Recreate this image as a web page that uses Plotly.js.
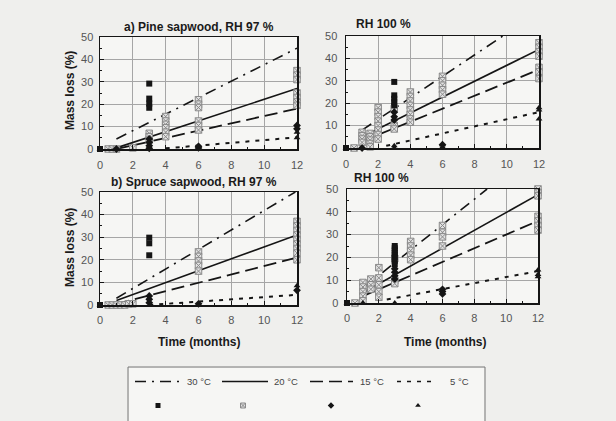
<!DOCTYPE html>
<html>
<head>
<meta charset="utf-8">
<script src="https://cdn.plot.ly/plotly-3.0.1.min.js"></script>
<style>
  html, body { margin: 0; padding: 0; background: #efefed; }
  #chart { width: 616px; height: 421px; }
</style>
</head>
<body>
<div id="chart"></div>
<script>
// ---- axis ticks ----
const monthTicks = [0, 2, 4, 6, 8, 10, 12];
const lossTicks = [0, 10, 20, 30, 40, 50];
const tempLabels = ['30 °C', '20 °C', '15 °C', '5 °C'];

// ---- a) Pine sapwood, RH 97 % : fitted trends [month, mass loss %] ----
const pine97Fit30 = [[1, 4.5], [12, 45]];
const pine97Fit20 = [[1, 0.5], [12, 27]];
const pine97Fit15 = [[1, 0], [12, 18]];
const pine97Fit5  = [[4, 0.3], [12, 5.2]];
// measured mass loss [month, %]
const pine97Pts30 = [[0, 0], [3, 29.2], [3, 22.5], [3, 20.3], [3, 18.4]];
const pine97Pts20 = [[0.5, 0], [0.75, 0], [1, 0], [2, 0.5], [3, 7], [3, 5.5], [3, 4],
  [4, 14.5], [4, 12.5], [4, 11], [4, 9.5], [4, 7.5], [4, 5.5],
  [6, 22], [6, 20], [6, 18.5], [6, 12.5], [6, 10.5], [6, 8.5],
  [12, 35], [12, 33], [12, 31], [12, 25], [12, 23], [12, 21], [12, 19.5]];
const pine97Pts15 = [[1, 0], [3, 4.5], [3, 3], [3, 1.5], [3, 0.3], [6, 1.2], [6, 0.5], [12, 10.5], [12, 9]];
const pine97Pts5  = [[0, 0], [6, 1.5], [12, 7.5], [12, 5]];

// ---- Pine sapwood, RH 100 % ----
const pine100Fit30 = [[1, 8], [9.75, 50]];
const pine100Fit20 = [[1, 5], [12, 44]];
const pine100Fit15 = [[1, 3], [12, 35]];
const pine100Fit5  = [[2.5, 1], [12, 16]];
const pine100Pts30 = [[0, 0], [3, 29.5], [3, 23.5], [3, 22], [3, 20.5], [3, 19]];
const pine100Pts20 = [[0.5, 0], [1, 7], [1, 5.5], [1, 4], [1, 2.5],
  [1.5, 6.5], [1.5, 5], [1.5, 3.5], [1.5, 2], [1.5, 0.5],
  [2, 18], [2, 16], [2, 14], [2, 12], [2, 10], [2, 8], [2, 6], [2, 4],
  [3, 17.5], [3, 10], [3, 8.5],
  [4, 25], [4, 23], [4, 21], [4, 19], [4, 17], [4, 15], [4, 13], [4, 11.5],
  [6, 32], [6, 30], [6, 28], [6, 26], [6, 24],
  [12, 47], [12, 45], [12, 43], [12, 41], [12, 36], [12, 34], [12, 31]];
const pine100Pts15 = [[1, 0], [3, 16], [3, 14], [3, 12.5], [6, 1.5]];
const pine100Pts5  = [[0, 0], [3, 1], [3, 0], [6, 1.5], [6, 0.5], [12, 18], [12, 17], [12, 13]];

// ---- b) Spruce sapwood, RH 97 % ----
const spruce97Fit30 = [[1, 3], [11.9, 50]];
const spruce97Fit20 = [[1, 2], [12, 31]];
const spruce97Fit15 = [[1, 0.5], [12, 21]];
const spruce97Fit5  = [[3, 0], [12, 4.5]];
const spruce97Pts30 = [[0, 0], [3, 29.8], [3, 27.3], [3, 22]];
const spruce97Pts20 = [[0.5, 0], [0.75, 0], [1, 0], [1.25, 0], [1.5, 0], [1.75, 0.5], [2, 0.5],
  [6, 23.5], [6, 21.5], [6, 19.5], [6, 17.5], [6, 15],
  [12, 37], [12, 35], [12, 33], [12, 31], [12, 29], [12, 27], [12, 25], [12, 23], [12, 20]];
const spruce97Pts15 = [[3, 4], [3, 2.5], [3, 1], [6, 0.5], [12, 6.5]];
const spruce97Pts5  = [[0, 0], [6, 0], [12, 8.5]];

// ---- Spruce sapwood, RH 100 % ----
const spruce100Fit30 = [[1, 6.5], [8.8, 50]];
const spruce100Fit20 = [[1, 4.5], [12, 47.5]];
const spruce100Fit15 = [[1, 3], [12, 36]];
const spruce100Fit5  = [[2.5, 1.5], [12, 14]];
const spruce100Pts30 = [[0, 0], [3, 25], [3, 24], [3, 23], [3, 22], [3, 21], [3, 20], [3, 18.5], [3, 17]];
const spruce100Pts20 = [[0.5, 0], [1, 9], [1, 7], [1, 5], [1, 3], [1, 1],
  [1.5, 10.5], [1.5, 8], [1.5, 6],
  [2, 15.5], [2, 11], [2, 8], [2, 5], [2, 2.5],
  [3, 19.5], [3, 10], [3, 8.5],
  [4, 27], [4, 25], [4, 23], [4, 21], [4, 19],
  [6, 34], [6, 31], [6, 29], [6, 25],
  [12, 50], [12, 48.5], [12, 47], [12, 38], [12, 36], [12, 34], [12, 32]];
const spruce100Pts15 = [[3, 15], [3, 13.5], [3, 12], [3, 10.5], [6, 6], [6, 5], [6, 4]];
const spruce100Pts5  = [[0, 0], [1, 0], [3, 0], [12, 14.5], [12, 12.5], [12, 11.5]];

// ---- styles ----
const FONT = 'Liberation Sans, Arial, Helvetica, sans-serif';
const INK = '#151515';
const lineStyles = [
  { color: INK, width: 1.6, dash: '11px,6px,2px,6px' },         // 30 °C
  { color: INK, width: 1.6, dash: 'solid' },                    // 20 °C
  { color: INK, width: 1.8, dash: '13px,6px' },                 // 15 °C
  { color: INK, width: 2.0, dash: '4px,6px' }                   // 5 °C
];
const markerStyles = [
  { symbol: 'square', size: 6, color: INK },
  { symbol: 'square-x', size: 6.5, color: '#e2e2e2', line: { color: '#8a8a8a', width: 1 } },
  { symbol: 'diamond', size: 6, color: INK },
  { symbol: 'triangle-up', size: 6, color: INK }
];

const panels = [
  { xa: 'x',  ya: 'y',  fits: [pine97Fit30, pine97Fit20, pine97Fit15, pine97Fit5],
    pts: [pine97Pts30, pine97Pts20, pine97Pts15, pine97Pts5] },
  { xa: 'x2', ya: 'y2', fits: [pine100Fit30, pine100Fit20, pine100Fit15, pine100Fit5],
    pts: [pine100Pts30, pine100Pts20, pine100Pts15, pine100Pts5] },
  { xa: 'x3', ya: 'y3', fits: [spruce97Fit30, spruce97Fit20, spruce97Fit15, spruce97Fit5],
    pts: [spruce97Pts30, spruce97Pts20, spruce97Pts15, spruce97Pts5] },
  { xa: 'x4', ya: 'y4', fits: [spruce100Fit30, spruce100Fit20, spruce100Fit15, spruce100Fit5],
    pts: [spruce100Pts30, spruce100Pts20, spruce100Pts15, spruce100Pts5] }
];

const traces = [];
panels.forEach(p => {
  p.fits.forEach((f, i) => traces.push({
    type: 'scatter', mode: 'lines', xaxis: p.xa, yaxis: p.ya,
    x: f.map(d => d[0]), y: f.map(d => d[1]),
    line: lineStyles[i], hoverinfo: 'skip', showlegend: false
  }));
  // grey markers underneath, black on top
  [1, 0, 2, 3].forEach(i => traces.push({
    type: 'scatter', mode: 'markers', xaxis: p.xa, yaxis: p.ya,
    x: p.pts[i].map(d => d[0]), y: p.pts[i].map(d => d[1]),
    marker: markerStyles[i], cliponaxis: false, hoverinfo: 'skip', showlegend: false
  }));
});

// ---- key box (drawn on its own pixel-like axis) ----
const keyLineX = [[135, 183], [222, 268], [310, 353], [397, 435]];
const keyTextX = [185, 272, 358, 448];
const keyMarkX = [158, 243, 331, 418];
const keyRowLine = 381.5, keyRowMark = 405.5;
keyLineX.forEach((seg, i) => {
  traces.push({
    type: 'scatter', mode: 'lines', xaxis: 'x5', yaxis: 'y5',
    x: seg, y: [keyRowLine, keyRowLine], line: Object.assign({}, lineStyles[i], { width: 1.4 }),
    hoverinfo: 'skip', showlegend: false
  });
  traces.push({
    type: 'scatter', mode: 'markers', xaxis: 'x5', yaxis: 'y5',
    x: [keyMarkX[i]], y: [keyRowMark],
    marker: Object.assign({}, markerStyles[i], { size: 5 }), hoverinfo: 'skip', showlegend: false
  });
});

const W = 616, H = 421;
const px = v => v / W;
const py = v => 1 - v / H;

function xAxis(l, r, anchor, standoff) {
  return {
    domain: [px(l), px(r)], anchor, range: [0, 12], tickmode: 'array', tickvals: monthTicks,
    ticks: 'inside', ticklen: 4, tickcolor: INK, tickwidth: 1,
    minor: { ticks: 'inside', ticklen: 2, tickcolor: INK, tickmode: 'linear', tick0: 0, dtick: 1, showgrid: false },
    showline: true, mirror: true, linecolor: INK, linewidth: 1.5,
    showgrid: true, gridcolor: '#a6a6a6', gridwidth: 1, zeroline: false,
    tickfont: { family: FONT, size: 11, color: '#555' }, ticklabelstandoff: standoff,
    fixedrange: true
  };
}
function yAxis(t, b, anchor, standoff) {
  return {
    domain: [py(b), py(t)], anchor, range: [0, 50], tickmode: 'array', tickvals: lossTicks,
    ticks: 'inside', ticklen: 4, tickcolor: INK, tickwidth: 1,
    minor: { ticks: 'inside', ticklen: 2, tickcolor: INK, tickmode: 'linear', tick0: 0, dtick: 5, showgrid: false },
    showline: true, mirror: true, linecolor: INK, linewidth: 1.5,
    showgrid: true, gridcolor: '#a6a6a6', gridwidth: 1, zeroline: false,
    tickfont: { family: FONT, size: 11, color: '#555' }, ticklabelstandoff: standoff,
    fixedrange: true
  };
}

const titleFont = { family: FONT, size: 12, color: '#1a1a1a', weight: 'bold' };
const ann = (text, x, y, xanchor, extra) => Object.assign({
  text, x: px(x), y: py(y), xref: 'paper', yref: 'paper',
  xanchor, yanchor: 'middle', showarrow: false, font: titleFont
}, extra || {});

const annotations = [
  ann('a) Pine sapwood, RH 97 %', 199, 27, 'center'),
  ann('RH 100 %', 354, 24, 'left'),
  ann('b) Spruce sapwood, RH 97 %', 194, 182, 'center'),
  ann('RH 100 %', 352, 178, 'left'),
  ann('Mass loss (%)', 70, 91, 'center', { textangle: -90 }),
  ann('Mass loss (%)', 70, 248, 'center', { textangle: -90 }),
  ann('Time (months)', 199, 342, 'center'),
  ann('Time (months)', 445, 342, 'center')
];
tempLabels.forEach((t, i) => annotations.push({
  text: t, x: keyTextX[i], y: keyRowLine, xref: 'x5', yref: 'y5',
  xanchor: 'left', yanchor: 'middle', showarrow: false,
  font: { family: FONT, size: 9.5, color: '#444' }
}));

const layout = {
  width: W, height: H, margin: { l: 0, r: 0, t: 0, b: 0 },
  paper_bgcolor: '#efefed', plot_bgcolor: '#f6f6f4',
  showlegend: false,
  xaxis:  xAxis(100, 297, 'y', 5),
  yaxis:  yAxis(37, 149, 'x', 3),
  xaxis2: xAxis(346, 539, 'y2', 5),
  yaxis2: yAxis(36, 148, 'x2', 5),
  xaxis3: xAxis(100, 297, 'y3', 4),
  yaxis3: yAxis(192, 305, 'x3', 3),
  xaxis4: xAxis(347, 538, 'y4', 4),
  yaxis4: yAxis(189, 303, 'x4', 5),
  xaxis5: { domain: [px(129), px(484)], anchor: 'y5', range: [129, 484], visible: false, fixedrange: true },
  yaxis5: { domain: [0, py(368)], anchor: 'x5', range: [421, 368], visible: false, fixedrange: true },
  shapes: [{
    type: 'rect', xref: 'paper', yref: 'paper',
    x0: px(128), x1: px(485), y0: py(430), y1: py(367),
    line: { color: '#777', width: 1 }, fillcolor: 'rgba(0,0,0,0)', layer: 'above'
  }],
  annotations
};

Plotly.newPlot('chart', traces, layout, { staticPlot: true, displayModeBar: false });
</script>
</body>
</html>
